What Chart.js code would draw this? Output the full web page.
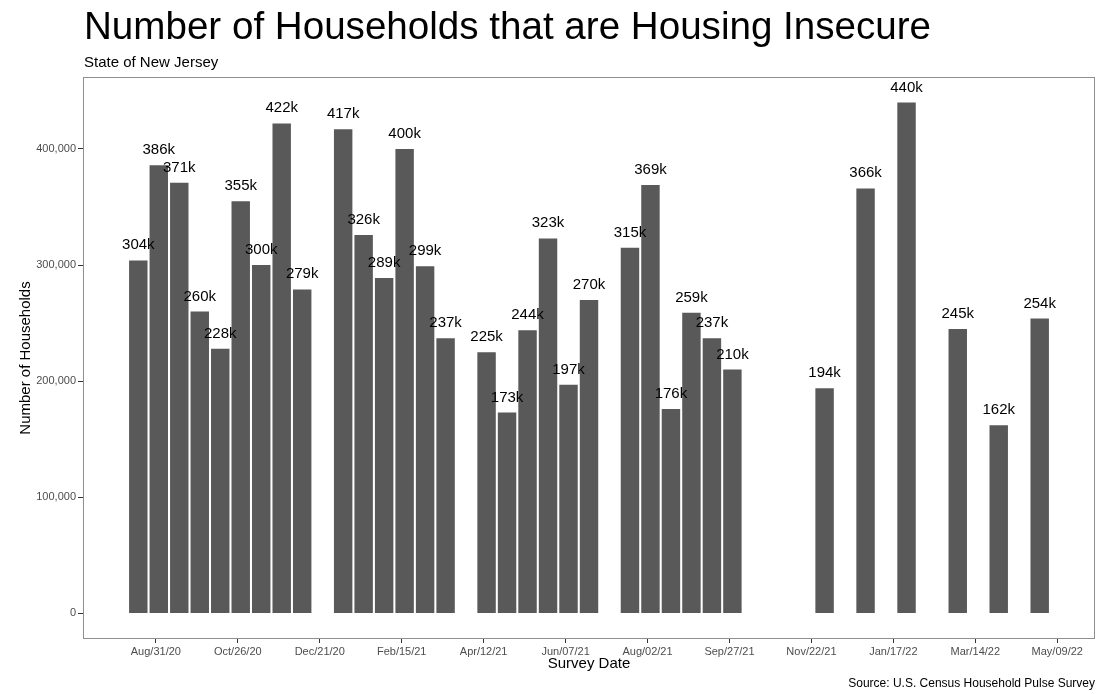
<!DOCTYPE html>
<html><head><meta charset="utf-8">
<script src="https://cdn.jsdelivr.net/npm/chart.js@4/dist/chart.umd.min.js"></script>
<style>html,body{margin:0;padding:0;background:#fff}#wrap{width:1097px;height:694px;position:relative}canvas{display:block}</style>
</head><body><div id="wrap"><canvas id="c" width="1097" height="694"></canvas></div>
<script>
const titleText = 'Number of Households that are Housing Insecure';
const subtitleText = 'State of New Jersey';
const captionText = 'Source: U.S. Census Household Pulse Survey';
const xAxisTitle = 'Survey Date';
const yAxisTitle = 'Number of Households';

const surveyDates = [
  '2020-08-19','2020-09-02','2020-09-16','2020-09-30','2020-10-14','2020-10-28','2020-11-11','2020-11-25','2020-12-09',
  '2021-01-06','2021-01-20','2021-02-03','2021-02-17','2021-03-03','2021-03-17',
  '2021-04-14','2021-04-28','2021-05-12','2021-05-26','2021-06-09','2021-06-23',
  '2021-07-21','2021-08-04','2021-08-18','2021-09-01','2021-09-15','2021-09-29',
  '2021-12-01','2021-12-29','2022-01-26',
  '2022-03-02','2022-03-30','2022-04-27'
];
const households = [
  304000,386000,371000,260000,228000,355000,300000,422000,279000,
  417000,326000,289000,400000,299000,237000,
  225000,173000,244000,323000,197000,270000,
  315000,369000,176000,259000,237000,210000,
  194000,366000,440000,
  245000,162000,254000
];
const tickDates = ['2020-08-31','2020-10-26','2020-12-21','2021-02-15','2021-04-12','2021-06-07','2021-08-02','2021-09-27','2021-11-22','2022-01-17','2022-03-14','2022-05-09'];
const tickLabels = ['Aug/31/20','Oct/26/20','Dec/21/20','Feb/15/21','Apr/12/21','Jun/07/21','Aug/02/21','Sep/27/21','Nov/22/21','Jan/17/22','Mar/14/22','May/09/22'];
const yTicks = [0,100000,200000,300000,400000];

const FONT = '"Liberation Sans", Arial, Helvetica, sans-serif';
Chart.defaults.font.family = FONT;
const xMin = Date.parse('2020-07-12') + 5 * 3600000;
const xMax = Date.parse('2022-06-03') + 19 * 3600000;

const panelPlugin = {
  id: 'panel',
  afterDatasetsDraw(chart) {
    const {ctx, chartArea: a} = chart;
    ctx.save();
    ctx.strokeStyle = '#8f8f8f';
    ctx.lineWidth = 1;
    ctx.strokeRect(Math.round(a.left) + 0.5, Math.round(a.top) + 0.5, Math.round(a.right - a.left) - 1, Math.round(a.bottom - a.top) - 1);
    const meta = chart.getDatasetMeta(0);
    ctx.fillStyle = '#000';
    ctx.font = '15px ' + FONT;
    ctx.textAlign = 'center';
    ctx.textBaseline = 'alphabetic';
    meta.data.forEach((el, i) => {
      ctx.fillText(Math.round(households[i] / 1000) + 'k', el.x, el.y - 11);
    });
    ctx.restore();
  },
  afterDraw(chart) {
    const {ctx, chartArea: a} = chart;
    ctx.save();
    ctx.fillStyle = '#000';
    ctx.textBaseline = 'alphabetic';
    ctx.textAlign = 'left';
    ctx.font = '38.6px ' + FONT;
    ctx.fillText(titleText, a.left + 1, 38.5);
    ctx.font = '15px ' + FONT;
    ctx.fillText(subtitleText, a.left + 1, 66.5);
    ctx.textAlign = 'right';
    ctx.font = '12px ' + FONT;
    ctx.fillText(captionText, chart.width - 2, 687);
    ctx.restore();
  }
};

new Chart(document.getElementById('c'), {
  type: 'bar',
  data: {
    datasets: [{
      data: surveyDates.map((d, i) => ({x: Date.parse(d), y: households[i]})),
      backgroundColor: '#595959',
      borderWidth: 0,
      barPercentage: 0.9,
      categoryPercentage: 1
    }]
  },
  options: {
    responsive: false,
    animation: false,
    devicePixelRatio: 1,
    layout: {padding: {top: 77, right: 2, bottom: 0, left: 0}},
    plugins: {legend: {display: false}, tooltip: {enabled: false}, title: {display: false}},
    scales: {
      x: {
        type: 'linear',
        min: xMin,
        max: xMax,
        offset: false,
        afterBuildTicks: s => { s.ticks = tickDates.map(d => ({value: Date.parse(d)})); },
        afterFit: s => { s.height = 55; },
        ticks: {
          autoSkip: false, maxRotation: 0, minRotation: 0,
          callback: (v, i) => tickLabels[i],
          font: {size: 11}, color: '#4d4d4d', padding: 2
        },
        grid: {offset: false, drawOnChartArea: false, drawTicks: true, tickLength: 4, color: '#333'},
        border: {display: false},
        title: {display: true, text: xAxisTitle, font: {size: 15}, color: '#000', padding: {top: 0, bottom: 21}}
      },
      y: {
        min: -22000,
        max: 462000,
        afterBuildTicks: s => { s.ticks = yTicks.map(v => ({value: v})); },
        afterFit: s => { s.width = 83; },
        ticks: {
          callback: v => v.toLocaleString('en-US'),
          font: {size: 11}, color: '#4d4d4d', padding: 2
        },
        grid: {drawOnChartArea: false, drawTicks: true, tickLength: 5, color: '#333'},
        border: {display: false},
        title: {display: true, text: yAxisTitle, font: {size: 15}, color: '#000', padding: {top: 17, bottom: 0}}
      }
    }
  },
  plugins: [panelPlugin]
});
</script>
</body></html>
